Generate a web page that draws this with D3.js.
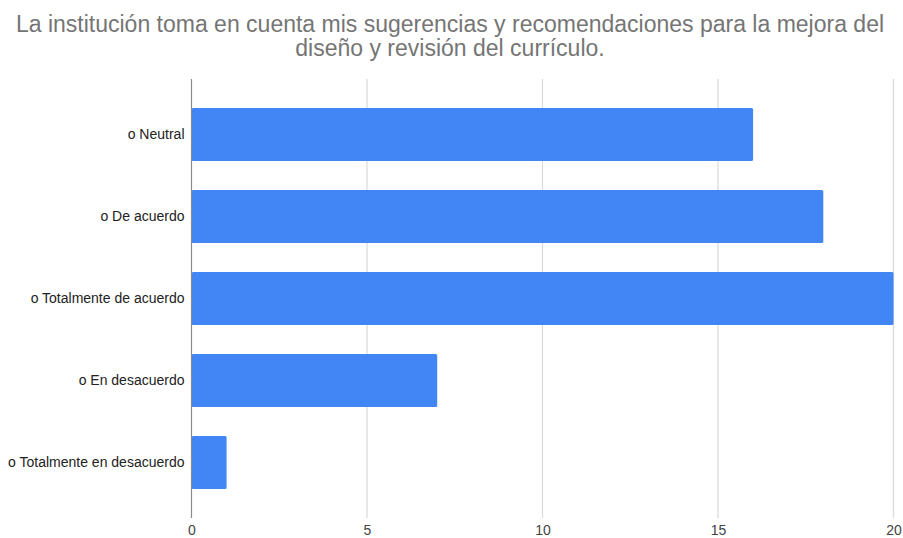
<!DOCTYPE html>
<html>
<head>
<meta charset="utf-8">
<script src="https://cdn.jsdelivr.net/npm/d3@7"></script>
<style>
  html, body { margin: 0; padding: 0; background: #fff; }
  svg { display: block; font-family: "Liberation Sans", Arial, sans-serif; }
</style>
</head>
<body>
<svg id="chart" width="903" height="538"></svg>
<script>
// Survey answers and counts
const categories = [
  "o Neutral",
  "o De acuerdo",
  "o Totalmente de acuerdo",
  "o En desacuerdo",
  "o Totalmente en desacuerdo"
];
const counts = [16, 18, 20, 7, 1];
const xTicks = [0, 5, 10, 15, 20];
const titleLines = [
  "La institución toma en cuenta mis sugerencias y recomendaciones para la mejora del",
  "diseño y revisión del currículo."
];

const svg = d3.select("#chart");

const plot = { left: 191.5, right: 893.5, top: 79, bottom: 518 };

const x = d3.scaleLinear().domain([0, 20]).range([plot.left, plot.right]);
const y = d3.scaleBand()
  .domain(categories)
  .range([93.5, 503.5])
  .paddingInner(0.354)
  .paddingOuter(0.177);

// Title, two centred lines
svg.append("g").selectAll("text")
  .data(titleLines)
  .join("text")
  .attr("x", 450)
  .attr("y", (d, i) => 32 + i * 24)
  .attr("text-anchor", "middle")
  .attr("font-size", 23)
  .attr("fill", "#757575")
  .text(d => d);

// Vertical gridlines
svg.append("g").selectAll("line")
  .data(xTicks.filter(t => t !== 0))
  .join("line")
  .attr("x1", d => x(d)).attr("x2", d => x(d))
  .attr("y1", plot.top).attr("y2", plot.bottom)
  .attr("stroke", "#d9d9d9")
  .attr("stroke-width", 1.2);

// Bars
svg.append("g").selectAll("rect")
  .data(categories.map((c, i) => ({ c, v: counts[i] })))
  .join("rect")
  .attr("x", x(0))
  .attr("y", d => y(d.c))
  .attr("width", d => x(d.v) - x(0))
  .attr("height", y.bandwidth())
  .attr("rx", 1.5)
  .attr("fill", "#4285f4");

// Baseline at zero
svg.append("line")
  .attr("x1", x(0)).attr("x2", x(0))
  .attr("y1", plot.top).attr("y2", plot.bottom)
  .attr("stroke", "#8c8c8c")
  .attr("stroke-width", 1.2);

// Category axis labels
const yAxis = d3.axisLeft(y).tickSize(0).tickPadding(7);
const gy = svg.append("g")
  .attr("transform", `translate(${x(0)},0)`)
  .call(yAxis);
gy.select(".domain").remove();
gy.selectAll("text")
  .attr("font-size", 14)
  .attr("font-family", "Liberation Sans, Arial, sans-serif")
  .attr("fill", "#222");

// Value axis labels
const xAxis = d3.axisBottom(x).tickValues(xTicks).tickSize(0).tickPadding(7);
const gx = svg.append("g")
  .attr("transform", `translate(0,${plot.bottom})`)
  .call(xAxis);
gx.select(".domain").remove();
gx.selectAll("text")
  .attr("font-size", 14)
  .attr("font-family", "Liberation Sans, Arial, sans-serif")
  .attr("fill", "#444");
</script>
</body>
</html>
